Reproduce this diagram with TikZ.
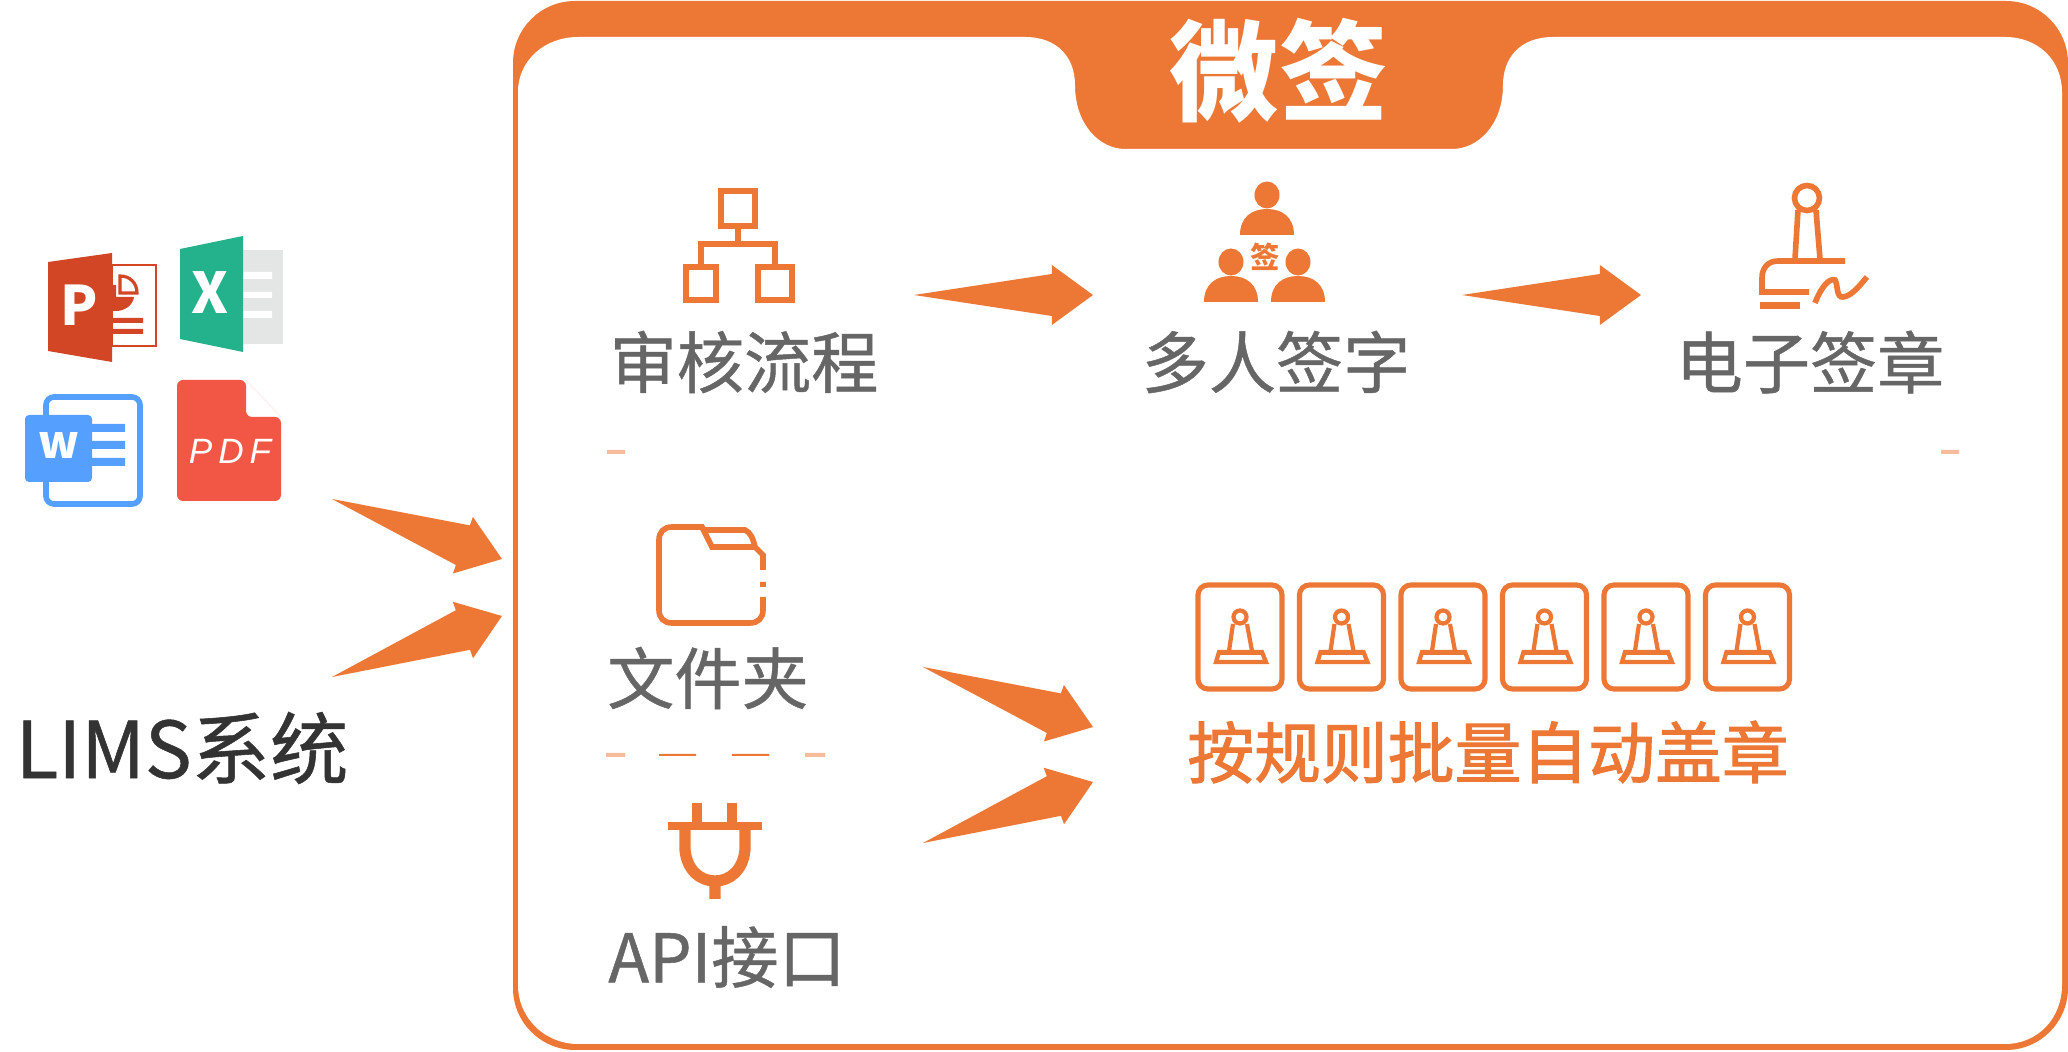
\documentclass[tikz,border=0pt]{standalone}
\usepackage{fontspec}
\setmainfont{Noto Sans CJK SC}
\newfontfamily\pdffont{Liberation Sans}
\newfontfamily\grayfont[FakeBold=0.7]{Noto Sans CJK SC}
\newfontfamily\batchfont[FakeBold=1.5]{Noto Sans CJK SC}
\usetikzlibrary{calc}
\definecolor{wqorange}{HTML}{ED7836}
\definecolor{wqfaint}{HTML}{F6BC9C}
\definecolor{wqgray}{HTML}{666666}
\definecolor{pptred}{HTML}{D24625}
\definecolor{xlsgreen}{HTML}{24B28D}
\definecolor{xlsgray}{HTML}{E4E6E5}
\definecolor{wordblue}{HTML}{559FFF}
\definecolor{pdfred}{HTML}{F25745}
\newcommand{\bigarrow}[2]{\fill[wqorange] (#1)
  -- ($(#1)!0.77!(#2)!0.21cm!90:(#2)$) -- ($(#1)!0.77!(#2)!0.30cm!90:(#2)$) -- (#2)
  -- ($(#1)!0.77!(#2)!0.30cm!-90:(#2)$) -- ($(#1)!0.77!(#2)!0.21cm!-90:(#2)$) -- cycle;}
\begin{document}
\begin{tikzpicture}[x=0.01cm,y=-0.01cm,
     labeltext/.style = {inner sep=0,text=wqgray,font=\grayfont\fontsize{19.1}{20}\selectfont},
     iconline/.style = {draw=wqorange,line width=1.6pt},
     thinline/.style = {draw=wqorange,line width=1.2pt},
     stampbox/.style = {draw=wqorange,line width=1.45pt,rounded corners=0.1cm,
        minimum width=0.84cm,minimum height=1.04cm,inner sep=0}]
   \useasboundingbox (0,0) rectangle (2068,1052);
   \fill[wqorange,rounded corners=0.62cm] (513,1) rectangle (2068,1050);
   \fill[white] (518,92) .. controls (518,60) and (545,37) .. (578,37) -- (1025,37)
       .. controls (1058,37) and (1075,58) .. (1075,85)
       .. controls (1075,125) and (1100,149) .. (1125,149) -- (1452,149)
       .. controls (1478,149) and (1503,125) .. (1503,85)
       .. controls (1503,58) and (1520,37) .. (1553,37) -- (2005,37)
       .. controls (2038,37) and (2062,60) .. (2062,92) -- (2062,985)
       .. controls (2062,1018) and (2038,1044) .. (2005,1044) -- (578,1044)
       .. controls (545,1044) and (518,1018) .. (518,985) -- cycle;
   \node[inner sep=0,text=white,font=\bfseries\fontsize{31}{32}\selectfont] (title) at (1279,71) {微签};
   \node[labeltext] (flow) at (744,362) {审核流程};
   \node[labeltext] (multi) at (1276,362) {多人签字};
   \node[labeltext] (seal) at (1810,362) {电子签章};
   \node[labeltext] (folder) at (708,678) {文件夹};
   \node[labeltext] (api) at (727,957) {API接口};
   \node[inner sep=0,text=wqorange,font=\batchfont\fontsize{19}{20}\selectfont] (batch) at (1488,752) {按规则批量自动盖章};
   \node[inner sep=0,anchor=west,text=black!80,font=\grayfont\fontsize{22.3}{23}\selectfont] (lims) at (15,748) {LIMS系统};
   \coordinate (a1) at (332,499); \coordinate (b1) at (502,559);
   \coordinate (a2) at (332,677); \coordinate (b2) at (502,616);
   \coordinate (a3) at (914,295); \coordinate (b3) at (1093,295);
   \coordinate (a4) at (1462,295); \coordinate (b4) at (1641,295);
   \coordinate (a5) at (923,667); \coordinate (b5) at (1093,727);
   \coordinate (a6) at (923,843); \coordinate (b6) at (1093,782);
   \foreach \i in {1,...,6} {\bigarrow{a\i}{b\i}}
   \fill[wqfaint] (607,450) rectangle (625,454) (1941,450) rectangle (1959,454)
       (606,753) rectangle (625,757) (805,753) rectangle (825,757);
   \fill[wqorange] (659,754) rectangle (696,756) (732,754) rectangle (769,756);
   \draw[pptred,line width=0.7pt] (112,265) rectangle (156,346);
   \fill[pptred] (112,285) -- (116,285) -- (116,297) -- (134,297) .. controls (133,305) and (125,311) .. (116,311)
       -- (112,311) -- cycle;
   \draw[pptred,fill=white,line width=0.9pt] (120,276) .. controls (130,276) and (137,283) .. (137,293) -- (120,293) -- cycle;
   \fill[pptred] (112,318) rectangle (143,323) (112,329) rectangle (143,334);
   \fill[pptred] (48,262) -- (112,253) -- (112,362) -- (48,351) -- cycle;
   \node[inner sep=0,text=white,font=\bfseries\fontsize{15.5}{16}\selectfont] (pletter) at (79,305) {P};
   \fill[xlsgray] (243,250) rectangle (283,344);
   \fill[white] (243,272) rectangle (272,279) (243,292) rectangle (272,298) (243,311) rectangle (272,318);
   \fill[xlsgreen] (180,249) -- (243,236) -- (243,352) -- (180,339) -- cycle;
   \node[inner sep=0,text=white,font=\bfseries\fontsize{16}{17}\selectfont] (xletter) at (210,293) {X};
   \draw[wordblue,line width=1.6pt,rounded corners=0.08cm] (46,397) rectangle (140,504);
   \fill[wordblue,rounded corners=0.04cm] (25,415) rectangle (92,482);
   \fill[wordblue] (92,424) rectangle (125,432) (92,441) rectangle (125,449) (92,458) rectangle (125,466);
   \node[inner sep=0,text=white,font=\bfseries\fontsize{13}{14}\selectfont] (wletter) at (59,445) {w};
   \fill[pdfred,rounded corners=0.06cm] (177,380) -- (246,380) -- (246,417) -- (281,417)
       -- (281,501) -- (177,501) -- cycle;
   \draw[pdfred!8,line width=0.4pt] (246,380) -- (281,417);
   \node[inner sep=0,text=white,font=\pdffont\itshape\fontsize{10}{11}\selectfont] (pdftext) at (230,451) {P\,D\,F};
   \draw[iconline] (721,191) rectangle (755,226) (686,267) rectangle (716,300) (758,267) rectangle (792,300)
       (738,226) -- (738,244) (701,267) -- (701,244) -- (775,244) -- (775,267);
   \foreach \x/\y in {1267/195,1231/262,1298/262} {
     \fill[wqorange] (\x,\y) ellipse (0.125cm and 0.135cm);
     \fill[wqorange] (\x-27,\y+40) .. controls (\x-27,\y+22) and (\x-15,\y+14) .. (\x,\y+14)
        .. controls (\x+15,\y+14) and (\x+27,\y+22) .. (\x+27,\y+40) -- cycle;
   }
   \node[inner sep=0,text=wqorange,font=\bfseries\fontsize{8.4}{9}\selectfont] (signmark) at (1265,257) {签};
   \draw[iconline] (1807,198) circle (0.125cm) (1798,210) -- (1795,259) (1816,210) -- (1820,259)
       (1845,261) -- (1778,261) .. controls (1768,261) and (1762,268) .. (1762,278) -- (1762,292) -- (1809,292)
       (1815,303) .. controls (1822,285) and (1830,278) .. (1835,280)
       .. controls (1838,284) and (1836,298) .. (1843,297) .. controls (1852,296) and (1860,285) .. (1867,277);
   \fill[wqorange] (1760,302) rectangle (1800,309);
   \draw[iconline] (763,570) -- (763,555) -- (755,547) -- (712,547) -- (702,527) -- (672,527)
       .. controls (664,527) and (659,532) .. (659,540) -- (659,610)
       .. controls (659,618) and (664,623) .. (672,623) -- (750,623)
       .. controls (758,623) and (763,618) .. (763,610) -- (763,597)
       (763,582) -- (763,587) (704,530) -- (745,530) .. controls (750,532) and (753,538) .. (755,547);
   \draw[draw=wqorange,line width=2.3pt] (668,826) -- (762,826);
   \draw[draw=wqorange,line width=3pt] (697,803) -- (697,826) (732,803) -- (732,826);
   \draw[draw=wqorange,line width=3.2pt] (685,826) -- (685,850) .. controls (687,870) and (700,881) .. (715,881)
       .. controls (730,881) and (743,870) .. (745,850) -- (745,826) (715,881) -- (715,899);
   \foreach \i in {0,...,5} {
     \node[stampbox] (stamp\i) at ({1240+101.5*\i},637) {};
     \begin{scope}[shift={(stamp\i.center)}]
       \draw[thinline] (0,-20) circle (0.065cm) (-7,-13) -- (-11,14) (7,-13) -- (12,14)
          (-24,25) -- (-21,15) -- (22,15) -- (26,25) -- cycle;
       \fill[wqorange] (-21,13) rectangle (22,18);
     \end{scope}
   }
\end{tikzpicture}
\end{document}
